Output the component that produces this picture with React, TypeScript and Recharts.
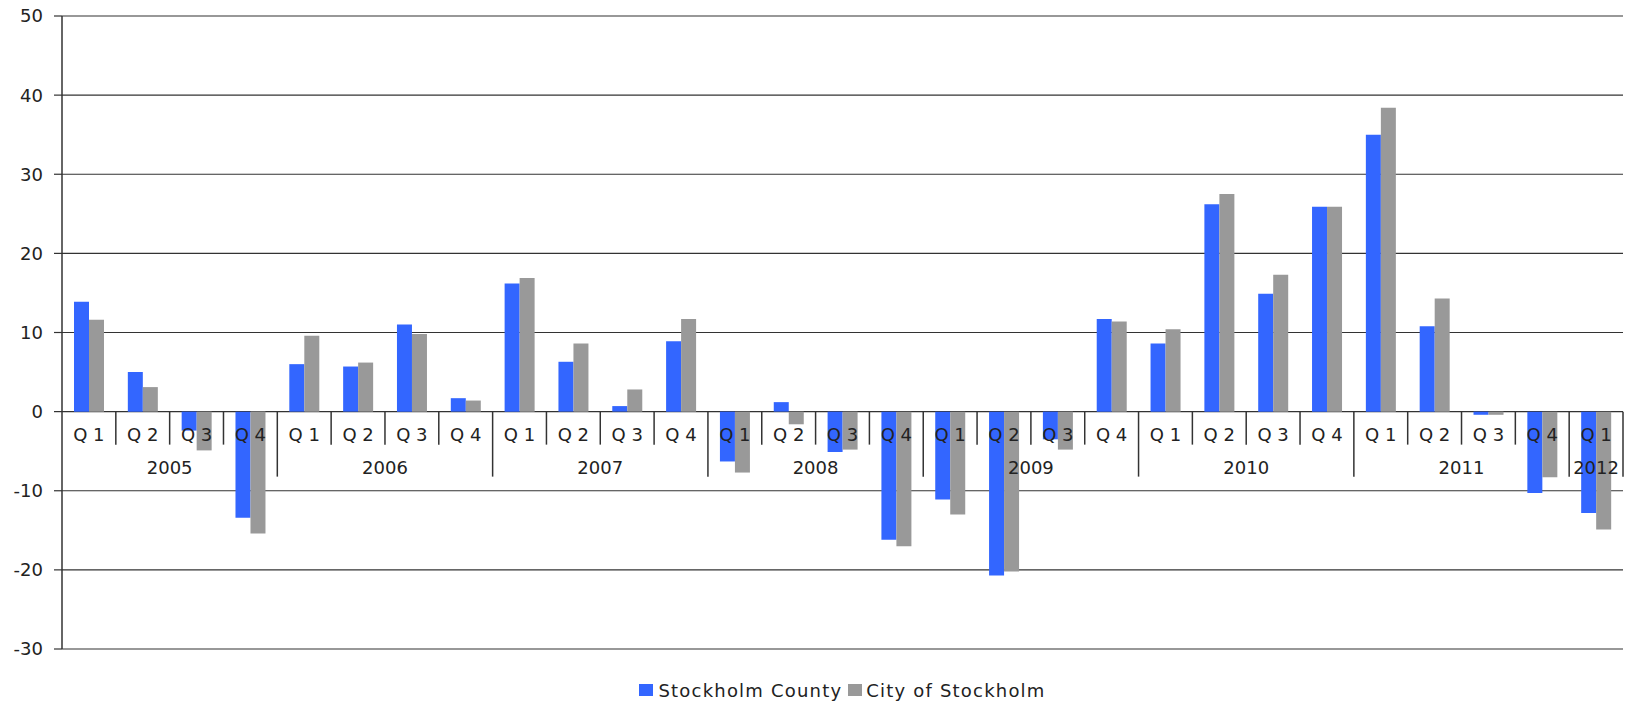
import { BarChart, Bar, XAxis, YAxis, CartesianGrid, Legend } from "recharts";

const yearLabels = ["2005", "2006", "2007", "2008", "2009", "2010", "2011", "2012"];
const quarterLabels = ["Q 1", "Q 2", "Q 3", "Q 4"];

// Stockholm County, quarterly values 2005 Q1 .. 2012 Q1
const countyValues = [
  13.9, 5.0, -2.4, -13.4,
  6.0, 5.7, 11.0, 1.7,
  16.2, 6.3, 0.7, 8.9,
  -6.3, 1.2, -5.1, -16.2,
  -11.1, -20.7, -3.5, 11.7,
  8.6, 26.2, 14.9, 25.9,
  35.0, 10.8, -0.4, -10.3,
  -12.8,
];

// City of Stockholm, same periods
const cityValues = [
  11.6, 3.1, -4.9, -15.4,
  9.6, 6.2, 9.8, 1.4,
  16.9, 8.6, 2.8, 11.7,
  -7.7, -1.6, -4.8, -17.0,
  -13.0, -20.2, -4.8, 11.4,
  10.4, 27.5, 17.3, 25.9,
  38.4, 14.3, -0.4, -8.3,
  -14.9,
];

const yTicks = [-30, -20, -10, 0, 10, 20, 30, 40, 50];

const periods = countyValues.map((v, i) => ({
  key: `${yearLabels[Math.floor(i / 4)]} ${quarterLabels[i % 4]}`,
  year: yearLabels[Math.floor(i / 4)],
  quarter: quarterLabels[i % 4],
  county: v,
  city: cityValues[i],
}));

const FONT = "'DejaVu Sans', Verdana, sans-serif";
const TEXT = "#222";
const LINE = "#333";
const PLOT_TOP = 16;
const Y_MIN = -30;
const Y_MAX = 50;

// x axis labels sit on the zero line, not at the bottom of the plot
const CategoryTick = (props: any) => {
  const { x, y, payload, width } = props;
  const i = payload.index ?? props.index;
  const p = periods[i];
  if (!p) return null;
  const band = (width || 1561) / periods.length;
  const zeroY = PLOT_TOP + ((y - PLOT_TOP) * Y_MAX) / (Y_MAX - Y_MIN);
  const left = x - band / 2;
  const firstOfYear = i === 0 || periods[i - 1].year !== p.year;
  const count = periods.filter((q) => q.year === p.year).length;
  const last = i === periods.length - 1;
  return (
    <g>
      {i > 0 && (
        <line x1={left} x2={left} y1={zeroY} y2={zeroY + (firstOfYear ? 65 : 33)} stroke={LINE} strokeWidth={1.5} />
      )}
      {last && (
        <line x1={left + band} x2={left + band} y1={zeroY} y2={zeroY + 65} stroke={LINE} strokeWidth={1.5} />
      )}
      <text x={x} y={zeroY + 29} textAnchor="middle" fontFamily={FONT} fontSize={18} fill={TEXT}>
        {p.quarter}
      </text>
      {firstOfYear && (
        <text x={left + (count * band) / 2} y={zeroY + 62} textAnchor="middle" fontFamily={FONT} fontSize={18} fill={TEXT}>
          {p.year}
        </text>
      )}
    </g>
  );
};

const renderLegend = () => (
  <div
    style={{
      display: "flex",
      justifyContent: "center",
      alignItems: "center",
      height: 20,
      fontFamily: FONT,
      fontSize: 18,
      letterSpacing: 1.2,
      color: TEXT,
    }}
  >
    <span style={{ width: 14, height: 12, background: "#3366FF", marginRight: 5 }} />
    <span style={{ marginRight: 6 }}>Stockholm County</span>
    <span style={{ width: 14, height: 12, background: "#999999", marginRight: 4 }} />
    <span>City of Stockholm</span>
  </div>
);

const App = () => {
  return (
    <div style={{ position: "absolute", left: 0, top: 0, width: 1633, height: 701, background: "#fff" }}>
      <BarChart
        width={1633}
        height={701}
        data={periods}
        margin={{ top: PLOT_TOP, right: 10, left: 0, bottom: 31 }}
        barSize={15}
        barGap={0}
      >
        <CartesianGrid vertical={false} stroke={LINE} strokeWidth={1.2} />
        <YAxis
          type="number"
          domain={[Y_MIN, Y_MAX]}
          ticks={yTicks}
          interval={0}
          width={62}
          tickSize={8}
          tickMargin={11}
          axisLine={{ stroke: LINE, strokeWidth: 1.5 }}
          tickLine={{ stroke: LINE, strokeWidth: 1.2 }}
          tick={{ fill: TEXT, fontSize: 18, fontFamily: FONT }}
        />
        <Bar dataKey="county" name="Stockholm County" fill="#3366FF" isAnimationActive={false} />
        <Bar dataKey="city" name="City of Stockholm" fill="#999999" isAnimationActive={false} />
        <XAxis
          dataKey="key"
          height={1}
          interval={0}
          tickSize={0}
          tickMargin={0}
          axisLine={false}
          tickLine={false}
          tick={<CategoryTick />}
        />
        <Legend
          verticalAlign="bottom"
          height={20}
          content={renderLegend}
          wrapperStyle={{ top: 680, left: 62, width: 1561, height: 20 }}
        />
      </BarChart>
    </div>
  );
};

export default App;
